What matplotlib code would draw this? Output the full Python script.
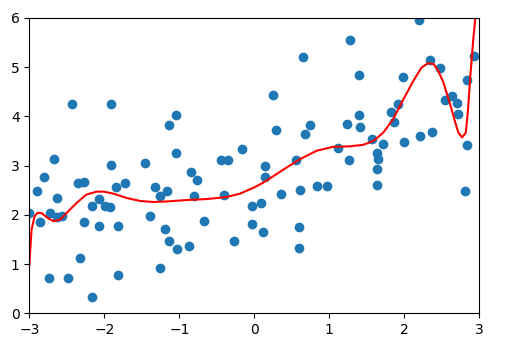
import numpy as np
import matplotlib
matplotlib.use('Agg')
import matplotlib.pyplot as plt

# scatter data
x_pts = [-3.00, -2.90, -2.86, -2.80, -2.74, -2.73, -2.67, -2.63, -2.63, -2.56,
         -2.49, -2.43, -2.35, -2.32, -2.27, -2.27, -2.17, -2.16, -2.07, -2.07,
         -1.99, -1.92, -1.91, -1.91, -1.84, -1.82, -1.82, -1.73, -1.46, -1.39,
         -1.32, -1.26, -1.26, -1.19, -1.17, -1.14, -1.14, -1.05, -1.05, -1.03,
         -0.87, -0.85, -0.80, -0.76, -0.67, -0.44, -0.35, -0.41, -0.27, -0.16,
         -0.03, -0.03, 0.09, 0.12, 0.14, 0.14, 0.25, 0.29, 0.36, 0.56,
         0.59, 0.59, 0.61, 0.65, 0.67, 0.74, 0.83, 0.97, 1.12, 1.24,
         1.26, 1.28, 1.39, 1.39, 1.41, 1.57, 1.64, 1.65, 1.64, 1.64,
         1.71, 1.82, 1.86, 1.91, 1.98, 2.00, 2.19, 2.21, 2.34, 2.37,
         2.47, 2.54, 2.64, 2.70, 2.72, 2.81, 2.83, 2.83, 2.93]
y_pts = [2.04, 2.48, 1.86, 2.77, 0.71, 2.04, 3.14, 2.34, 1.96, 1.97,
         0.71, 4.24, 2.64, 1.13, 2.67, 1.85, 2.18, 0.33, 2.32, 1.77,
         2.18, 2.15, 4.24, 3.02, 2.57, 1.77, 0.78, 2.65, 3.05, 1.98,
         2.56, 2.39, 0.91, 1.71, 2.48, 3.82, 1.46, 4.02, 3.25, 1.30,
         1.36, 2.87, 2.38, 2.70, 1.88, 3.11, 3.11, 2.40, 1.46, 3.34,
         2.17, 1.82, 2.23, 1.65, 3.00, 2.76, 4.44, 3.72, 2.43, 3.11,
         1.75, 1.32, 2.51, 5.21, 3.64, 3.83, 2.59, 2.59, 3.36, 3.85,
         3.11, 5.54, 4.84, 4.02, 3.78, 3.53, 3.26, 3.14, 2.92, 2.60,
         3.44, 4.08, 3.89, 4.24, 4.79, 3.47, 5.95, 3.59, 5.14, 3.69,
         4.98, 4.33, 4.41, 4.27, 4.04, 2.48, 4.74, 3.42, 5.23]

# fitted curve
x_fit = [-3.00, -2.97, -2.93, -2.89, -2.83, -2.77, -2.68, -2.59, -2.50, -2.37,
         -2.24, -2.10, -2.01, -1.88, -1.70, -1.52, -1.35, -1.17, -0.90, -0.63,
         -0.37, -0.19, -0.01, 0.08, 0.19, 0.39, 0.61, 0.83, 1.05, 1.27,
         1.45, 1.59, 1.72, 1.85, 1.99, 2.12, 2.23, 2.32, 2.39, 2.45,
         2.52, 2.61, 2.68, 2.72, 2.77, 2.82, 2.85, 2.88, 2.92, 2.95, 2.98]
y_fit = [0.98, 1.70, 1.97, 2.04, 2.03, 1.95, 1.87, 1.90, 2.04, 2.24,
         2.41, 2.47, 2.47, 2.43, 2.34, 2.28, 2.26, 2.27, 2.30, 2.32,
         2.36, 2.43, 2.55, 2.62, 2.72, 2.92, 3.13, 3.30, 3.38, 3.39,
         3.42, 3.50, 3.67, 3.94, 4.35, 4.72, 4.99, 5.08, 5.06, 4.93,
         4.69, 4.25, 3.87, 3.67, 3.57, 3.67, 4.14, 4.82, 5.57, 6.05, 6.70]

fig = plt.figure(figsize=(5.09, 3.54), dpi=100)
ax = fig.add_axes([0.0576, 0.115, 0.8841, 0.8348])

ax.scatter(x_pts, y_pts)
ax.plot(x_fit, y_fit, color='r', lw=1.5)

ax.set_xlim([-3, 3])
ax.set_ylim([0, 6])

fig.savefig('out.png', dpi=100)
